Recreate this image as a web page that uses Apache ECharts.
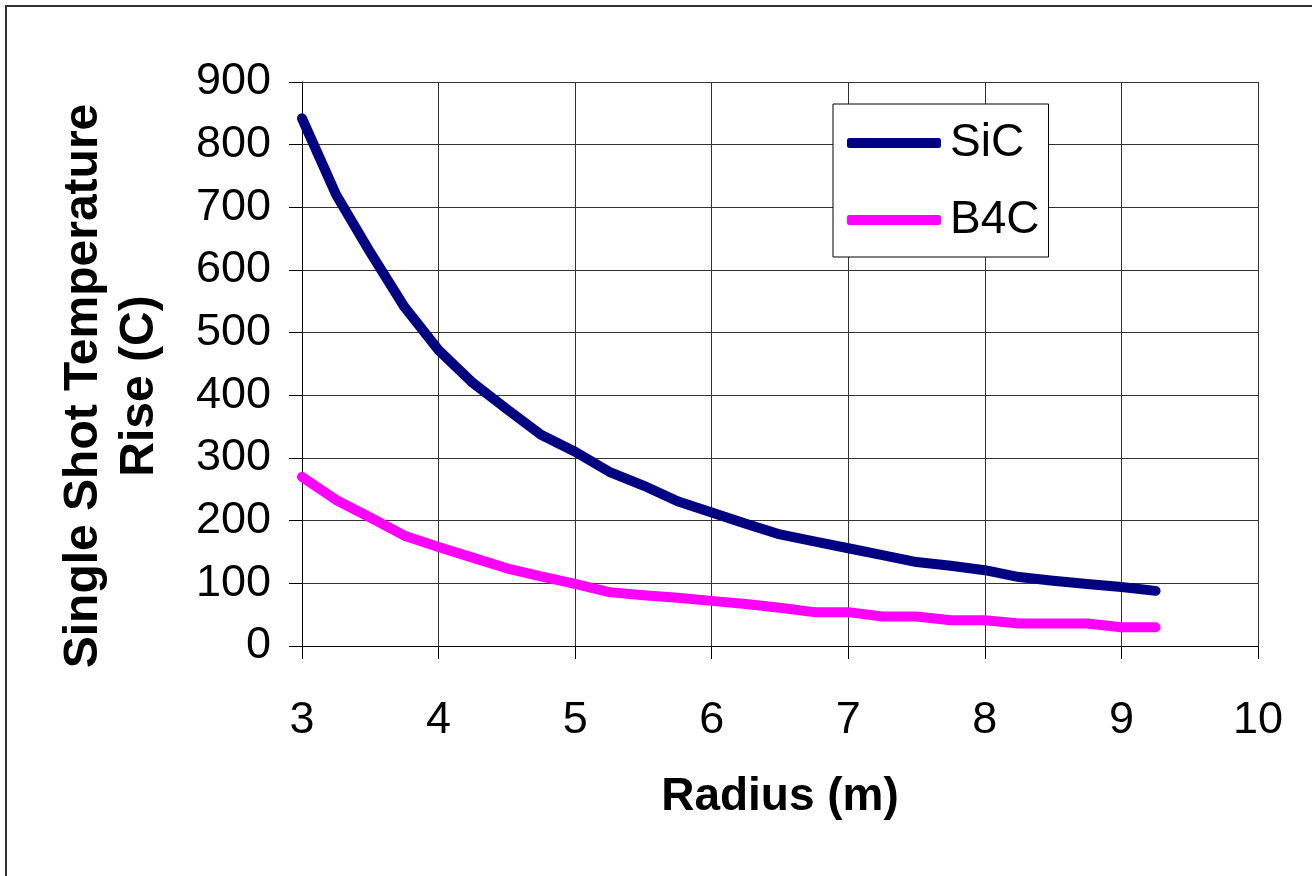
<!DOCTYPE html>
<html>
<head>
<meta charset="utf-8">
<script src="https://cdn.jsdelivr.net/npm/echarts@6/dist/echarts.min.js"></script>
<style>html,body{margin:0;padding:0;background:#fff}#c{width:1312px;height:876px}</style>
</head>
<body>
<div id="c"></div>
<script>
const radius = [3, 3.25, 3.5, 3.75, 4, 4.25, 4.5, 4.75, 5, 5.25, 5.5, 5.75, 6, 6.25, 6.5, 6.75, 7, 7.25, 7.5, 7.75, 8, 8.25, 8.5, 8.75, 9, 9.25];
const sic = [842, 720, 628, 541, 472, 420, 378, 337, 310, 278, 256, 231, 213, 195, 178, 167, 156, 145, 134, 128, 121, 110, 104, 99, 94, 88];
const b4c = [270, 233, 205, 176, 158, 141, 124, 111, 99, 86, 81, 77, 72, 67, 61, 54, 54, 47, 47, 41, 41, 36, 36, 36, 30, 30];
const seriesNames = ['SiC', 'B4C'];
const xTitle = 'Radius (m)';
const yTitle = 'Single Shot Temperature\nRise (C)';

const FONT = 'Liberation Sans, Arial, sans-serif';
const chart = echarts.init(document.getElementById('c'), null, {renderer: 'canvas'});
const pairs = vals => radius.map((r, i) => [r, vals[i]]);

chart.setOption({
  animation: false,
  backgroundColor: '#fff',
  grid: {left: 302, right: 54, top: 82, bottom: 230, containLabel: false},
  xAxis: {
    type: 'value', min: 3, max: 10, interval: 1,
    name: xTitle, nameLocation: 'middle', nameGap: 128,
    nameTextStyle: {fontFamily: FONT, fontSize: 46, fontWeight: 'bold', color: '#000'},
    axisLine: {show: true, lineStyle: {color: '#000', width: 1}},
    axisTick: {show: true, inside: false, length: 13, lineStyle: {color: '#000'}},
    axisLabel: {fontFamily: FONT, fontSize: 45, color: '#000', margin: 52},
    splitLine: {show: true, lineStyle: {color: '#333', width: 1}}
  },
  yAxis: {
    type: 'value', min: 0, max: 900, interval: 100,
    axisLine: {show: true, lineStyle: {color: '#000', width: 1}},
    axisTick: {show: true, inside: false, length: 13, lineStyle: {color: '#000'}},
    axisLabel: {fontFamily: FONT, fontSize: 45, color: '#000', margin: 31},
    splitLine: {show: true, lineStyle: {color: '#333', width: 1}}
  },
  legend: {
    orient: 'vertical', left: 833, top: 104,
    data: seriesNames.map(n => ({name: n, icon: 'roundRect'})),
    itemWidth: 94, itemHeight: 10, itemGap: 31,
    padding: [16, 9, 14, 14],
    borderColor: '#000', borderWidth: 1, backgroundColor: '#fff', borderRadius: 0,
    textStyle: {fontFamily: FONT, fontSize: 46, color: '#000', padding: [0, 0, 0, 4]}
  },
  graphic: [
    {type: 'rect', shape: {x: 6, y: 6, width: 1400, height: 1000}, style: {fill: 'none', stroke: '#333', lineWidth: 2}, z: -10, silent: true},
    {type: 'text', x: 112, y: 386, rotation: Math.PI / 2,
     style: {text: yTitle, font: 'bold 48px ' + FONT, fill: '#000', textAlign: 'center', textVerticalAlign: 'middle', lineHeight: 56}}
  ],
  series: [
    {name: seriesNames[0], type: 'line', data: pairs(sic), showSymbol: false, symbol: 'none', color: '#000080',
     lineStyle: {color: '#000080', width: 10, cap: 'round', join: 'round'}, itemStyle: {color: '#000080'}},
    {name: seriesNames[1], type: 'line', data: pairs(b4c), showSymbol: false, symbol: 'none', color: '#ff00ff',
     lineStyle: {color: '#ff00ff', width: 10, cap: 'round', join: 'round'}, itemStyle: {color: '#ff00ff'}}
  ]
});
</script>
</body>
</html>
